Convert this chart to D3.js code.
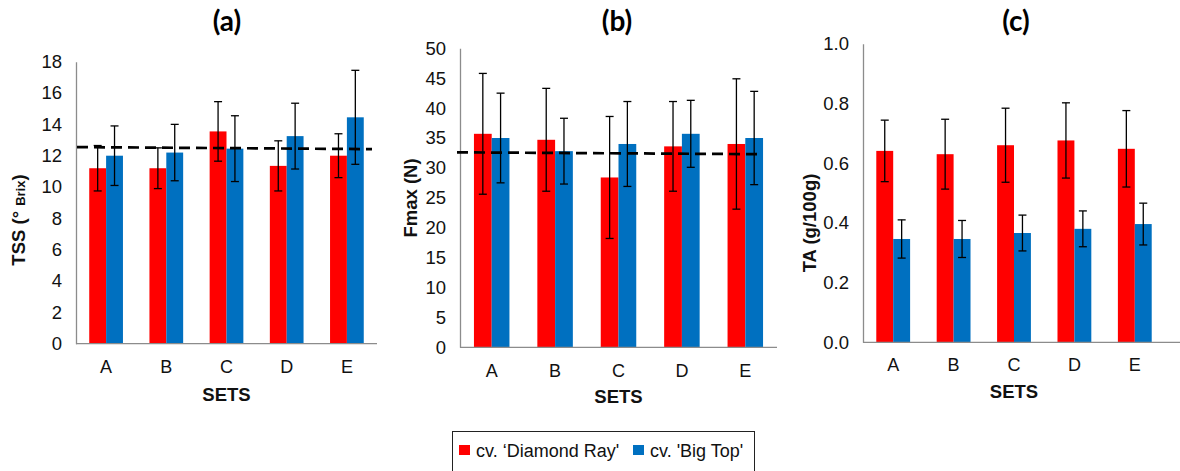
<!DOCTYPE html>
<html><head><meta charset="utf-8">
<script src="https://cdn.jsdelivr.net/npm/d3@7"></script>
<style>
html,body{margin:0;padding:0;background:#fff;}
svg{display:block;}
</style></head>
<body>
<svg id="chart" width="1180" height="471"></svg>
<script>
// ---------- DATA ----------
const sets = ["A", "B", "C", "D", "E"];
const seriesNames = ["cv. \u2018Diamond Ray'", "cv. 'Big Top'"];

const tssDiamond = [11.2, 11.2, 13.55, 11.35, 12.0];
const tssDiamondErr = [1.45, 1.3, 1.9, 1.6, 1.4];
const tssBigTop = [12.0, 12.2, 12.45, 13.25, 14.45];
const tssBigTopErr = [1.9, 1.8, 2.1, 2.1, 3.0];
const tssMeanLine = [12.55, 12.42];
const tssTicks = [0, 2, 4, 6, 8, 10, 12, 14, 16, 18];

const fmaxDiamond = [35.7, 34.7, 28.4, 33.6, 34.0];
const fmaxDiamondErr = [10.1, 8.6, 10.2, 7.5, 10.9];
const fmaxBigTop = [35.0, 32.8, 34.0, 35.7, 35.0];
const fmaxBigTopErr = [7.5, 5.5, 7.1, 5.6, 7.8];
const fmaxMeanLine = [32.6, 32.3];
const fmaxTicks = [0, 5, 10, 15, 20, 25, 30, 35, 40, 45, 50];

const taDiamond = [0.641, 0.630, 0.660, 0.676, 0.648];
const taDiamondErr = [0.103, 0.117, 0.124, 0.126, 0.128];
const taBigTop = [0.346, 0.346, 0.366, 0.380, 0.396];
const taBigTopErr = [0.064, 0.062, 0.060, 0.060, 0.070];
const taTicks = [0, 0.2, 0.4, 0.6, 0.8, 1.0];

// ---------- LAYOUT ----------
const colors = ["#ff0000", "#0070c0"];
const axisColor = "#8c8c8c";
const sans = "'Liberation Sans', Arial, sans-serif";
const svg = d3.select("#chart");

const panels = [
  { title: "(a)", titleX: 227, yMax: 18, ticks: tssTicks, fmt: d3.format("d"),
    x0: 76, x1: 377, xEnd: 377, yBottom: 343.7, yTop: 61.7,
    s1: tssDiamond, e1: tssDiamondErr, s2: tssBigTop, e2: tssBigTopErr,
    mean: tssMeanLine, meanX: [77, 372], labelX: 19, labelY: 220, label: "tss",
    xlabY: 373.3, setsY: 400.5 },
  { title: "(b)", titleX: 617, yMax: 50, ticks: fmaxTicks, fmt: d3.format("d"),
    x0: 460, x1: 777, xEnd: 777, yBottom: 347.3, yTop: 48.3,
    s1: fmaxDiamond, e1: fmaxDiamondErr, s2: fmaxBigTop, e2: fmaxBigTopErr,
    mean: fmaxMeanLine, meanX: [457, 757], labelX: 411, labelY: 198, label: "Fmax (N)",
    xlabY: 377, setsY: 403 },
  { title: "(c)", titleX: 1016, yMax: 1.0, ticks: taTicks, fmt: d3.format(".1f"),
    x0: 863, x1: 1165, xEnd: 1180, yBottom: 342.3, yTop: 43.7,
    s1: taDiamond, e1: taDiamondErr, s2: taBigTop, e2: taBigTopErr,
    mean: null, labelX: 810, labelY: 223, label: "TA (g/100g)",
    xlabY: 371.5, setsY: 398 }
];

panels.forEach(p => {
  const g = svg.append("g");
  const x = d3.scaleBand().domain(sets).range([p.x0, p.x1]).paddingInner(0.44).paddingOuter(0.22);
  const xs = d3.scaleBand().domain([0, 1]).range([0, x.bandwidth()]);
  const y = d3.scaleLinear().domain([0, p.yMax]).range([p.yBottom, p.yTop]);

  // title
  g.append("text").attr("x", p.titleX).attr("y", 31).attr("text-anchor", "middle")
    .attr("font-family", "Lato, 'Open Sans', sans-serif").attr("font-weight", "bold")
    .attr("font-size", 28).attr("fill", "#000").text(p.title);

  // y axis
  const yAxis = d3.axisLeft(y).tickValues(p.ticks).tickFormat(p.fmt).tickSize(0).tickPadding(14);
  const ya = g.append("g").attr("transform", `translate(${p.x0},0)`).call(yAxis);
  ya.select(".domain").attr("stroke", axisColor).attr("stroke-width", 1.3);
  ya.selectAll("text").attr("font-family", sans)
    .attr("font-size", 18.5).attr("fill", "#111");

  // bars
  const series = [[p.s1, p.e1], [p.s2, p.e2]];
  series.forEach((s, si) => {
    g.append("g").selectAll("rect").data(sets).join("rect")
      .attr("x", d => x(d) + xs(si))
      .attr("width", xs.bandwidth())
      .attr("y", (d, i) => y(s[0][i]))
      .attr("height", (d, i) => y(0) - y(s[0][i]))
      .attr("fill", colors[si]);
  });

  // x axis
  const xAxis = d3.axisBottom(x).tickSize(0).tickPadding(0);
  const xa = g.append("g").attr("transform", `translate(0,${p.yBottom})`).call(xAxis);
  xa.select(".domain").remove();
  g.append("line").attr("x1", p.x0).attr("x2", p.xEnd).attr("y1", p.yBottom).attr("y2", p.yBottom)
    .attr("stroke", axisColor).attr("stroke-width", 1.3);
  xa.selectAll("text").attr("font-family", sans)
    .attr("font-size", 18).attr("fill", "#111").attr("dy", null)
    .attr("y", p.xlabY - p.yBottom);

  // error bars
  series.forEach((s, si) => {
    const eg = g.append("g").attr("stroke", "#000").attr("stroke-width", 1.3);
    sets.forEach((d, i) => {
      const lo = y(s[0][i] - s[1][i]), hi = y(s[0][i] + s[1][i]);
      const ex = x(d) + xs(si) + xs.bandwidth() / 2;
      eg.append("line").attr("x1", ex).attr("x2", ex).attr("y1", lo).attr("y2", hi);
      eg.append("line").attr("x1", ex - 4).attr("x2", ex + 4).attr("y1", lo).attr("y2", lo);
      eg.append("line").attr("x1", ex - 4).attr("x2", ex + 4).attr("y1", hi).attr("y2", hi);
    });
  });

  // mean dashed line
  if (p.mean) {
    g.append("line").attr("x1", p.meanX[0]).attr("x2", p.meanX[1])
      .attr("y1", y(p.mean[0])).attr("y2", y(p.mean[1]))
      .attr("stroke", "#000").attr("stroke-width", 2.7).attr("stroke-dasharray", "11,6");
  }

  // y label
  const yl = g.append("text").attr("transform", `translate(${p.labelX},${p.labelY}) rotate(-90)`)
    .attr("text-anchor", "middle").attr("font-family", sans)
    .attr("font-weight", "bold").attr("font-size", 18.5).attr("fill", "#111")
    .attr("dy", "0.35em");
  if (p.label === "tss") {
    yl.append("tspan").text("TSS (\u00b0 ");
    yl.append("tspan").attr("font-size", 13).text("Brix");
    yl.append("tspan").text(")");
  } else {
    yl.text(p.label);
  }

  // SETS
  g.append("text").attr("x", (p.x0 + p.x1) / 2).attr("y", p.setsY).attr("text-anchor", "middle")
    .attr("font-family", sans).attr("font-weight", "bold")
    .attr("font-size", 18.5).attr("fill", "#111").text("SETS");
});

// ---------- LEGEND ----------
const lg = svg.append("g");
lg.append("rect").attr("x", 452.5).attr("y", 431.5).attr("width", 302).attr("height", 50)
  .attr("fill", "#fff").attr("stroke", "#222").attr("stroke-width", 1);
const legendX = [459, 633];
seriesNames.forEach((n, i) => {
  lg.append("rect").attr("x", legendX[i]).attr("y", 445).attr("width", 11).attr("height", 10)
    .attr("fill", colors[i]);
  lg.append("text").attr("x", legendX[i] + 17).attr("y", 457)
    .attr("font-family", sans).attr("font-size", 18)
    .attr("fill", "#111").text(n);
});
</script>
</body></html>
